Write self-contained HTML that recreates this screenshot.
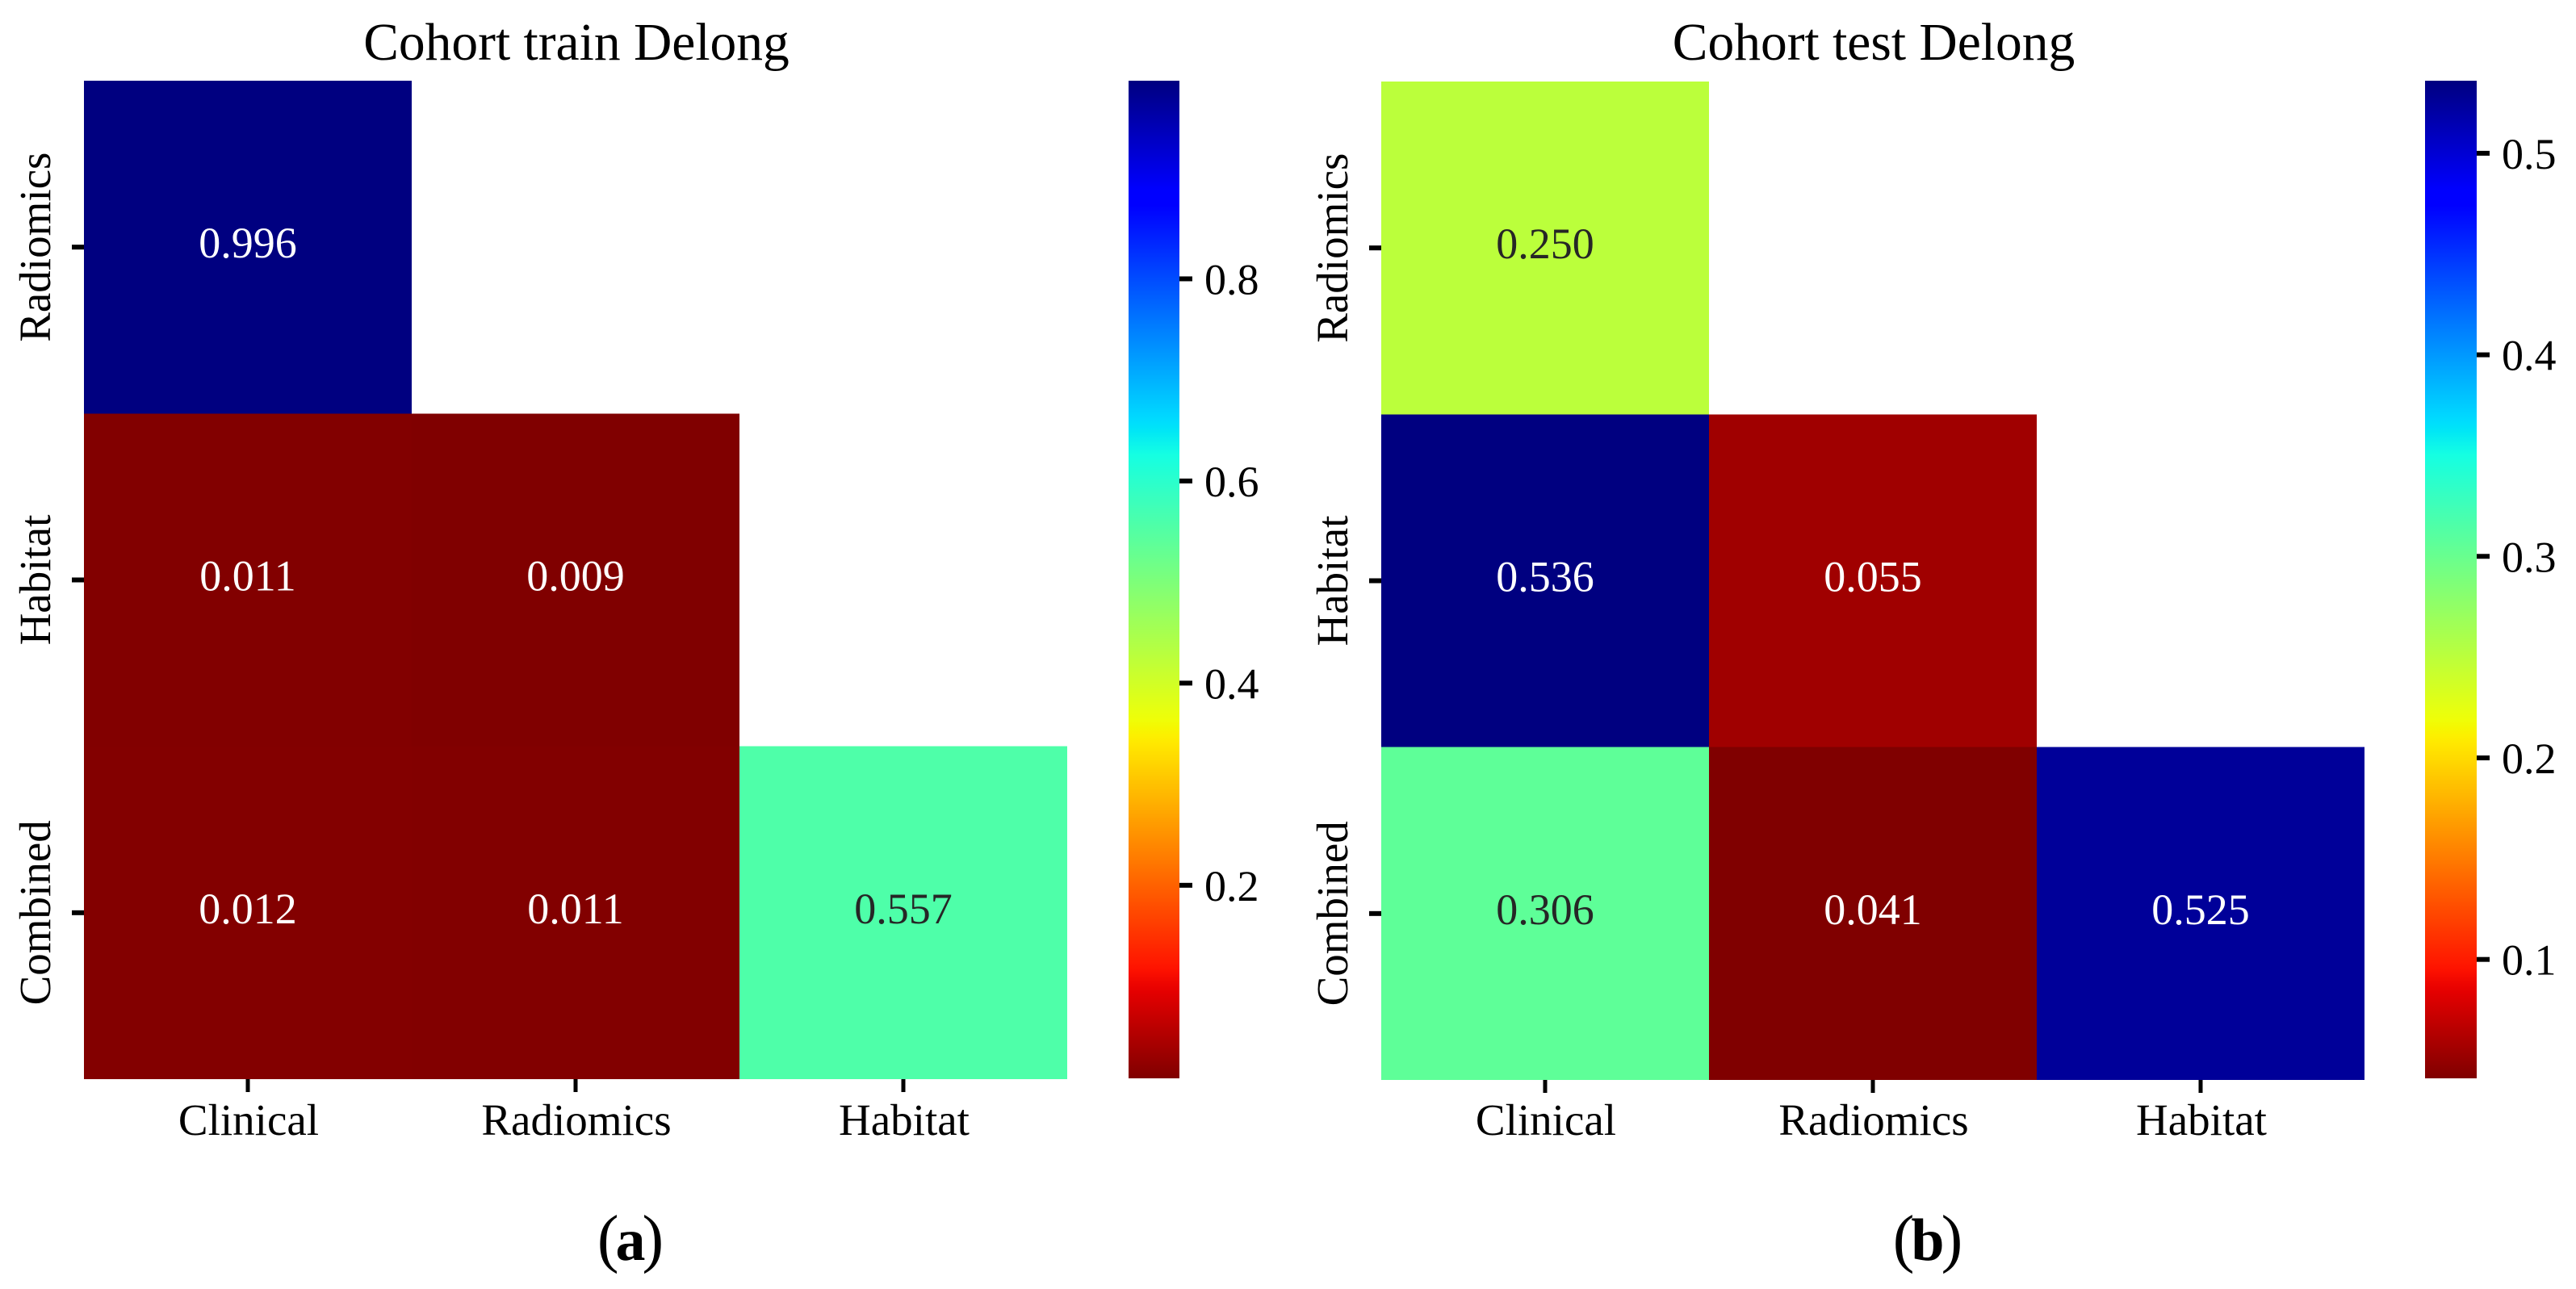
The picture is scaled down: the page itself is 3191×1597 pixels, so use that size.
<!DOCTYPE html>
<html>
<head>
<meta charset="utf-8">
<style>
html,body{margin:0;padding:0;background:#fff;width:3191px;height:1597px;overflow:hidden}
svg{display:block}
text{font-family:"Liberation Serif","Times New Roman",serif}
</style>
</head>
<body>
<svg id="figure" xmlns="http://www.w3.org/2000/svg" width="3191" height="1597" viewBox="0 0 3191 1597"></svg>
<script>
const xCategories = ["Clinical", "Radiomics", "Habitat"];
const yCategories = ["Radiomics", "Habitat", "Combined"];
const trainRadiomics = [0.996, null, null];
const trainHabitat = [0.011, 0.009, null];
const trainCombined = [0.012, 0.011, 0.557];
const testRadiomics = [0.250, null, null];
const testHabitat = [0.536, 0.055, null];
const testCombined = [0.306, 0.041, 0.525];
const trainTicks = [0.2, 0.4, 0.6, 0.8];
const testTicks = [0.1, 0.2, 0.3, 0.4, 0.5];

const svg = document.getElementById('figure');
const NS = 'http://www.w3.org/2000/svg';

function make(tag, attrs, parent, content) {
  const el = document.createElementNS(NS, tag);
  for (const k in attrs) el.setAttribute(k, attrs[k]);
  if (content !== undefined) el.textContent = content;
  parent.appendChild(el);
  return el;
}

function seg(points, t) {
  for (let i = 1; i < points.length; i++) {
    if (t <= points[i][0]) {
      const a = points[i - 1], b = points[i];
      return a[1] + (b[1] - a[1]) * (t - a[0]) / (b[0] - a[0]);
    }
  }
  return points[points.length - 1][1];
}
const jetR = [[0, 0], [0.35, 0], [0.66, 1], [0.89, 1], [1, 0.5]];
const jetG = [[0, 0], [0.125, 0], [0.375, 1], [0.64, 1], [0.91, 0], [1, 0]];
const jetB = [[0, 0.5], [0.11, 1], [0.34, 1], [0.65, 0], [1, 0]];
function jetReversed(t) {
  const u = 1 - Math.max(0, Math.min(1, t));
  return [seg(jetR, u), seg(jetG, u), seg(jetB, u)];
}
function css(c) {
  return 'rgb(' + c.map(v => Math.round(v * 255)).join(',') + ')';
}
function annotationColor(c) {
  const l = c.map(v => v <= 0.03928 ? v / 12.92 : Math.pow((v + 0.055) / 1.055, 2.4));
  const lum = 0.2126 * l[0] + 0.7152 * l[1] + 0.0722 * l[2];
  return lum > 0.408 ? '#262626' : '#ffffff';
}

function drawPanel(cfg) {
  const g = make('g', {}, svg);
  
  

  const flat = cfg.rows.flat().filter(v => v !== null);
  const vmin = Math.min.apply(null, flat);
  const vmax = Math.max.apply(null, flat);
  const norm = v => (v - vmin) / (vmax - vmin);
  const xBand = i => cfg.left + i * cfg.cellW;
  const yBand = i => cfg.top + i * cfg.cellH;
  const barY = v => cfg.barBottom - norm(v) * (cfg.barBottom - cfg.barTop);

  const title = make('text', {x: cfg.left + 1.5 * cfg.cellW + 1, y: 74, 'font-size': 65.5, 'text-anchor': 'middle', fill: '#000'}, g, cfg.title);
  
  

  cfg.rows.forEach((row, r) => {
    row.forEach((value, c) => {
      if (value === null) return;
      const color = jetReversed(norm(value));
      const cell = make('rect', {x: xBand(c), y: yBand(r), width: cfg.cellW, height: cfg.cellH, fill: css(color), 'shape-rendering': 'crispEdges'}, g);
      
      
      const label = make('text', {x: xBand(c) + cfg.cellW / 2, y: yBand(r) + cfg.cellH / 2 + 13, 'font-size': 54, 'text-anchor': 'middle', fill: annotationColor(color)}, g, value.toFixed(3));
      
      
    });
  });

  const bottom = yBand(yCategories.length);
  xCategories.forEach((name, i) => {
    const cx = xBand(i) + cfg.cellW / 2;
    const tick = make('rect', {x: cx - 2.5, y: bottom, width: 5, height: 16, fill: '#000'}, g);
    
    
    const label = make('text', {x: cx + 1, y: 1406, 'font-size': 55, 'text-anchor': 'middle', fill: '#000'}, g, name);
    
    
  });

  yCategories.forEach((name, i) => {
    const cy = yBand(i) + cfg.cellH / 2;
    const tick = make('rect', {x: cfg.left - 15, y: cy - 3, width: 15, height: 6, fill: '#000'}, g);
    
    
    const bx = cfg.left - 42;
    const label = make('text', {x: bx, y: cy, 'font-size': 55, 'text-anchor': 'middle', fill: '#000', transform: 'rotate(-90 ' + bx + ' ' + cy + ')'}, g, name);
    
    
  });

  const grad = make('linearGradient', {id: cfg.name + '-gradient', x1: 0, y1: 1, x2: 0, y2: 0}, g);
  for (let i = 0; i <= 128; i++) {
    make('stop', {offset: i / 128, 'stop-color': css(jetReversed(i / 128))}, grad);
  }
  const bar = make('rect', {x: cfg.barLeft, y: cfg.barTop, width: cfg.barW, height: cfg.barBottom - cfg.barTop, fill: 'url(#' + cfg.name + '-gradient)', 'shape-rendering': 'crispEdges'}, g);
  
  

  cfg.ticks.forEach(v => {
    const y = barY(v);
    const tick = make('rect', {x: cfg.barLeft + cfg.barW, y: y - 3, width: 16, height: 6, fill: '#000'}, g);
    
    
    const label = make('text', {x: cfg.barLeft + cfg.barW + 31, y: y + 19, 'font-size': 54, fill: '#000'}, g, v.toFixed(1));
    
    
  });

  const caption = make('text', {x: cfg.captionX, y: 1561, 'text-anchor': 'middle', fill: '#000'}, g);
  
  
  make('tspan', {'font-size': 80}, caption, '(');
  make('tspan', {'font-size': 74, 'font-weight': 'bold', dx: -4}, caption, cfg.letter);
  make('tspan', {'font-size': 80, dx: -4}, caption, ')');
}

drawPanel({
  name: 'train', title: 'Cohort train Delong', letter: 'a', captionX: 781,
  rows: [trainRadiomics, trainHabitat, trainCombined], ticks: trainTicks,
  left: 104, top: 100, cellW: 406, cellH: 412.33,
  barLeft: 1398, barW: 63, barTop: 100, barBottom: 1336
});
drawPanel({
  name: 'test', title: 'Cohort test Delong', letter: 'b', captionX: 2388,
  rows: [testRadiomics, testHabitat, testCombined], ticks: testTicks,
  left: 1711, top: 101, cellW: 406, cellH: 412.33,
  barLeft: 3004, barW: 64, barTop: 100, barBottom: 1336
});
</script>
</body>
</html>
